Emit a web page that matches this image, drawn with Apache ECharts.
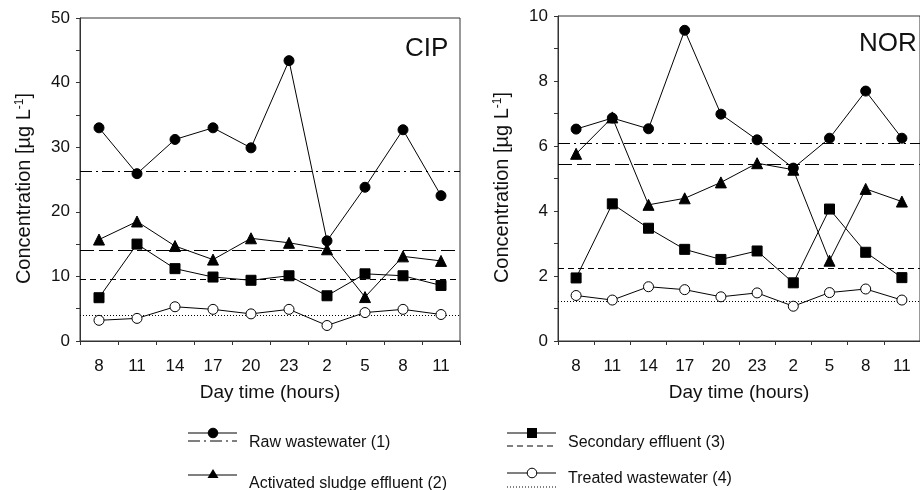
<!DOCTYPE html>
<html><head><meta charset="utf-8">
<script src="https://cdn.jsdelivr.net/npm/echarts@6/dist/echarts.min.js"></script>
<style>html,body{margin:0;padding:0;background:#fff}#c{width:920px;height:490px}</style>
</head><body><div id="c"></div>
<script>
const hours = ['8','11','14','17','20','23','2','5','8','11'];
// CIP
const cipRaw = [33.0, 25.9, 31.2, 33.0, 29.9, 43.4, 15.5, 23.8, 32.7, 22.5];
const cipAS = [15.7, 18.5, 14.7, 12.6, 15.9, 15.2, 14.2, 6.8, 13.1, 12.4];
const cipSec = [6.7, 15.0, 11.2, 9.9, 9.4, 10.1, 7.0, 10.4, 10.1, 8.6];
const cipTreated = [3.2, 3.5, 5.3, 4.9, 4.2, 4.9, 2.4, 4.4, 4.9, 4.1];
const cipMeans = [26.3, 14.0, 9.5, 4.0]; // raw, AS, secondary, treated
// NOR
const norRaw = [6.52, 6.86, 6.53, 9.56, 6.98, 6.19, 5.32, 6.24, 7.69, 6.24];
const norAS = [5.76, 6.88, 4.19, 4.39, 4.88, 5.47, 5.27, 2.47, 4.68, 4.29];
const norSec = [1.94, 4.22, 3.47, 2.82, 2.51, 2.77, 1.79, 4.06, 2.73, 1.95];
const norTreated = [1.40, 1.26, 1.67, 1.58, 1.36, 1.48, 1.07, 1.49, 1.60, 1.26];
const norMeans = [6.07, 5.43, 2.25, 1.23];
const yTicksCIP = [0, 50, 10];
const yTicksNOR = [0, 10, 2];

const FONT = '"Liberation Sans", Arial, sans-serif';
const AX = '#333';
const dashTypes = [[12,4,2,4],[14,5],[6,4],[1,2]];

function xAxis(gi){
  return {type:'category', gridIndex:gi, data:hours, boundaryGap:true,
    name:'Day time (hours)', nameLocation:'middle', nameGap:42,
    nameTextStyle:{fontFamily:FONT,fontSize:19,color:'#111'},
    axisLine:{lineStyle:{color:AX,width:1}},
    axisTick:{show:true,interval:0,alignWithLabel:false,length:4,lineStyle:{color:AX}},
    axisLabel:{interval:0,margin:17,fontFamily:FONT,fontSize:17,color:'#111'},
    splitLine:{show:false}};
}
function yAxis(gi,t){
  return {type:'value', gridIndex:gi, min:t[0], max:t[1], interval:t[2],
    name:'Concentration [µg L{sup|-1}]', nameLocation:'middle', nameGap:45, nameRotate:90,
    nameTextStyle:{fontFamily:FONT,fontSize:20,color:'#111',padding:[0,18,0,0],
      rich:{sup:{fontFamily:FONT,fontSize:12,color:'#111',verticalAlign:'top',padding:[0,0,9,0]}}},
    axisLine:{show:true,lineStyle:{color:AX,width:1}},
    axisTick:{show:true,length:4,lineStyle:{color:AX}},
    minorTick:{show:true,splitNumber:2,length:4,lineStyle:{color:AX}},
    axisLabel:{margin:10,fontFamily:FONT,fontSize:17,color:'#111'},
    splitLine:{show:false}};
}
const styles = [
  {symbol:'circle', symbolSize:10, itemStyle:{color:'#000',borderColor:'#000'}},
  {symbol:'triangle', symbolSize:11, itemStyle:{color:'#000',borderColor:'#000'}},
  {symbol:'rect', symbolSize:10, itemStyle:{color:'#000',borderColor:'#000'}},
  {symbol:'circle', symbolSize:10, itemStyle:{color:'#fff',borderColor:'#000',borderWidth:1}}
];
function mkSeries(gi, arr, k, mean){
  return Object.assign({type:'line', xAxisIndex:gi, yAxisIndex:gi, data:arr,
    lineStyle:{color:'#000',width:1}, showSymbol:true, animation:false, z:3+k,
    markLine:{silent:true, symbol:['none','none'], label:{show:false},
      lineStyle:{color:'#000',width:1,type:dashTypes[k]},
      data:[{yAxis:mean}]}
  }, JSON.parse(JSON.stringify(styles[k])));
}
const series = [];
[cipRaw,cipAS,cipSec,cipTreated].forEach((a,k)=>series.push(mkSeries(0,a,k,cipMeans[k])));
[norRaw,norAS,norSec,norTreated].forEach((a,k)=>series.push(mkSeries(1,a,k,norMeans[k])));

const legendItems = [
  {x:188, y:433, y2:441, dash:dashTypes[0], sym:'circle', fill:'#000', text:'Raw wastewater (1)', ty:443},
  {x:188, y:475, y2:null, dash:null, sym:'triangle', fill:'#000', text:'Activated sludge effluent (2)', ty:484},
  {x:507, y:433, y2:446, dash:dashTypes[2], sym:'rect', fill:'#000', text:'Secondary effluent (3)', ty:443},
  {x:507, y:473, y2:487, dash:dashTypes[3], sym:'circle', fill:'#fff', text:'Treated wastewater (4)', ty:479}
];
const graphic = [];
legendItems.forEach(it=>{
  graphic.push({type:'line', shape:{x1:it.x,y1:it.y,x2:it.x+49,y2:it.y}, style:{stroke:'#000',lineWidth:1}});
  if(it.y2!==null) graphic.push({type:'line', shape:{x1:it.x,y1:it.y2,x2:it.x+49,y2:it.y2}, style:{stroke:'#000',lineWidth:1,lineDash:it.dash}});
  const cx = it.x+25;
  if(it.sym==='circle') graphic.push({type:'circle', shape:{cx:cx,cy:it.y,r:4.8}, style:{fill:it.fill,stroke:'#000',lineWidth:1}, z:10});
  if(it.sym==='rect') graphic.push({type:'rect', shape:{x:cx-5,y:it.y-5,width:10,height:10}, style:{fill:'#000'}, z:10});
  if(it.sym==='triangle') graphic.push({type:'polygon', shape:{points:[[cx,it.y-6],[cx-5.5,it.y+3],[cx+5.5,it.y+3]]}, style:{fill:'#000'}, z:10});
  graphic.push({type:'text', x:it.x+61, y:it.ty, style:{text:it.text, font:'16px '+FONT, fill:'#111', verticalAlign:'middle'}});
});

const chart = echarts.init(document.getElementById('c'), null, {renderer:'canvas'});
chart.setOption({
  animation:false,
  backgroundColor:'#fff',
  textStyle:{fontFamily:FONT},
  title:[
    {text:'CIP', left:400, top:31, textStyle:{fontFamily:FONT,fontSize:26,fontWeight:'normal',color:'#111'}},
    {text:'NOR', left:854, top:26, textStyle:{fontFamily:FONT,fontSize:26,fontWeight:'normal',color:'#111'}}
  ],
  grid:[
    {left:80, top:18, width:380, height:323, show:true, borderColor:AX, borderWidth:1, backgroundColor:'transparent'},
    {left:558, top:16, width:372, height:325, show:true, borderColor:AX, borderWidth:1, backgroundColor:'transparent'}
  ],
  xAxis:[xAxis(0), xAxis(1)],
  yAxis:[yAxis(0,yTicksCIP), yAxis(1,yTicksNOR)],
  series:series,
  graphic:graphic
});
</script></body></html>
